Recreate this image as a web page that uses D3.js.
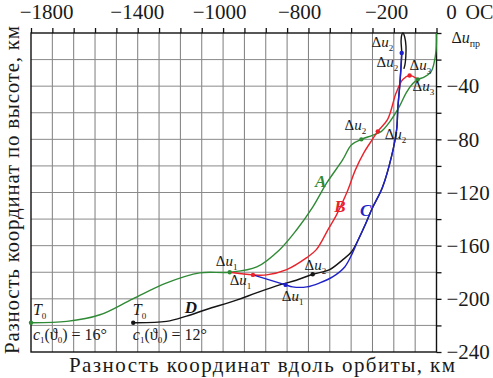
<!DOCTYPE html>
<html>
<head>
<meta charset="utf-8">
<script src="https://cdn.jsdelivr.net/npm/d3@7/dist/d3.min.js"></script>
<style>
body { margin: 0; background: #fff; }
svg text { font-family: "Liberation Serif", "DejaVu Serif", serif; fill: #1a1a1a; }
</style>
</head>
<body>
<div id="chart"></div>
<script>
var width = 493;
var height = 378;

// curves: [km along orbit, km in height]
var curveA = [[-1900,-218],[-1732,-217],[-1577,-212],[-1423,-200],[-1264,-188],[-1109,-180.5],[-969,-180],
    [-842,-176],[-735,-163],[-655,-148],[-580,-131],[-515,-113],[-440,-95.5],[-398,-84],[-352,-80],
    [-300,-77],[-258,-74],[-220,-67],[-173,-55],[-142,-45],[-111,-38],[-88,-35],[-56,-33],[-25,-29],
    [-12,-23],[-2,-13],[0,0]];
var curveB = [[-969,-180],[-860,-182],[-796,-182],[-702,-178],[-608,-169],[-563,-163],[-505,-147],
    [-469,-137],[-420,-120],[-380,-103],[-340,-90],[-300,-80],[-275,-74],[-229,-65],[-189,-45],
    [-158,-35],[-126,-32],[-95,-34],[-88,-35]];
var curveC = [[-860,-182],[-707,-189.5],[-674,-191],[-608,-191],[-547,-188],[-487,-183.5],[-430,-176],
    [-395,-166],[-365,-155],[-332,-143.5],[-300,-131.5],[-253,-116],[-211,-93],[-187,-73],[-181,-56],
    [-172,-39],[-163,-15]];
var curveD = [[-1421,-218],[-1265,-217],[-1171,-213],[-1078,-208],[-937,-201],[-844,-195.5],[-735,-189.5],
    [-657,-186],[-580,-181.5],[-501,-178],[-440,-170.7],[-400,-165],[-365,-155],[-332,-143.5],[-300,-131.5],
    [-253,-116],[-211,-93],[-187,-73],[-181,-56],[-172,-39],[-163,-15],[-166,-6],[-163,-1.5],[-157,0],
    [-149,-3],[-143,-10],[-144,-18],[-148,-24],[-153,-27]];

var markers = [
    { x: -1900, y: -218, c: 'A' }, { x: -969, y: -180, c: 'A' }, { x: -352, y: -80, c: 'A' }, { x: -88, y: -35, c: 'A' },
    { x: -860, y: -182, c: 'B' }, { x: -275, y: -74, c: 'B' }, { x: -126, y: -32, c: 'B' },
    { x: -707, y: -189.5, c: 'C' }, { x: -163, y: -15, c: 'C' },
    { x: -1421, y: -218, c: 'D' }, { x: -580, y: -181.5, c: 'D' }
];

var colors = { A: '#2f8a35', B: '#e8232b', C: '#1f22c8', D: '#151515' };

// annotation labels at data positions
var duLabels = [
    { x: -1034, y: -175, sub: '1' }, { x: -969, y: -189.5, sub: '1' }, { x: -725, y: -202, sub: '1' },
    { x: -618, y: -178, sub: '2' }, { x: -431, y: -73, sub: '2' }, { x: -243, y: -80, sub: '2' },
    { x: -304, y: -10.5, sub: '2' }, { x: -281, y: -25.5, sub: '2' },
    { x: -126, y: -28, sub: '3' }, { x: -112, y: -44, sub: '3' }
];
var curveNames = [
    { x: -543, y: -116, t: 'A' }, { x: -452, y: -134.6, t: 'B' },
    { x: -332, y: -138, t: 'C' }, { x: -1151, y: -210.5, t: 'D' }
];
var startLabels = [
    { x: -1891, y: -212, angle: '16°' },
    { x: -1423, y: -212, angle: '12°' }
];

var topTickText = ['\u22121800', '\u22121400', '\u22121000', '\u2212800', '\u2212200', '0'];
var topTickPos = [-1827, -1402, -1016, -641, -234, 70];
var rightTicks = d3.range(0, -241, -20);

var x = d3.scaleLinear().domain([-1900, 0]).range([31, 436.5]);
var y = d3.scaleLinear().domain([0, -240]).range([33, 352]);

var svg = d3.select('#chart')
    .append('svg')
        .attr('width', width)
        .attr('height', height);

// grid
svg.append('g')
    .selectAll('line')
    .data(d3.range(-1800, 0, 100))
    .enter()
    .append('line')
        .attr('x1', d => x(d)).attr('x2', d => x(d))
        .attr('y1', y(0)).attr('y2', y(-240))
        .attr('stroke', '#7d7d7d')
        .attr('stroke-width', 1);

svg.append('g')
    .selectAll('line')
    .data(d3.range(-20, -240, -20))
    .enter()
    .append('line')
        .attr('x1', x(-1900)).attr('x2', x(0))
        .attr('y1', d => y(d)).attr('y2', d => y(d))
        .attr('stroke', '#8a8a8a')
        .attr('stroke-width', 1);

// frame
svg.append('rect')
    .attr('x', x(-1900)).attr('y', y(0))
    .attr('width', x(0) - x(-1900)).attr('height', y(-240) - y(0))
    .attr('fill', 'none')
    .attr('stroke', '#111')
    .attr('stroke-width', 1.4);

// top axis: ticks only, labels placed as in the original
var topAxis = svg.append('g')
    .attr('transform', 'translate(0,' + y(0) + ')')
    .call(d3.axisTop(x).tickValues(d3.range(-1900, 1, 100)).tickSize(5).tickFormat(''));
topAxis.select('.domain').remove();
topAxis.selectAll('line').attr('stroke', '#111').attr('stroke-width', 1.3);

svg.append('g')
    .selectAll('text')
    .data(topTickText)
    .enter()
    .append('text')
        .attr('x', (d, i) => x(topTickPos[i]))
        .attr('y', 19)
        .attr('text-anchor', 'middle')
        .style('font-size', '21px')
        .text(d => d);

svg.append('text')
    .attr('x', x(136))
    .attr('y', 19)
    .style('font-size', '20px')
    .text('OC');

// right axis
var rightAxis = svg.append('g')
    .attr('transform', 'translate(' + x(0) + ',0)')
    .call(d3.axisRight(y).tickValues(rightTicks).tickSize(5).tickPadding(5)
        .tickFormat(d => (d % 40 === 0 && d !== 0) ? '\u2212' + (-d) : ''));
rightAxis.attr('font-family', null);
rightAxis.select('.domain').remove();
rightAxis.selectAll('line').attr('stroke', '#111').attr('stroke-width', 1.3);
rightAxis.selectAll('text')
    .style('font-size', '21px')
    .attr('fill', '#1a1a1a');

var duPr = svg.append('text')
    .attr('x', x(70))
    .attr('y', y(-7.5))
    .style('font-size', '16px');
duPr.append('tspan').text('\u0394');
duPr.append('tspan').style('font-style', 'italic').text('u');
duPr.append('tspan').attr('dy', 4).style('font-size', '10px').text('пр');

// curves
var line = d3.line()
    .x(d => x(d[0]))
    .y(d => y(d[1]))
    .curve(d3.curveCatmullRom.alpha(0.5));

var curves = [['D', curveD], ['A', curveA], ['B', curveB], ['C', curveC]];

svg.append('g')
    .selectAll('path')
    .data(curves)
    .enter()
    .append('path')
        .attr('d', d => line(d[1]))
        .attr('fill', 'none')
        .attr('stroke', d => colors[d[0]])
        .attr('stroke-width', 1.4);

svg.append('g')
    .selectAll('circle')
    .data(markers)
    .enter()
    .append('circle')
        .attr('cx', d => x(d.x))
        .attr('cy', d => y(d.y))
        .attr('r', 2.2)
        .attr('fill', d => colors[d.c]);

// Δu labels
var du = svg.append('g')
    .selectAll('text')
    .data(duLabels)
    .enter()
    .append('text')
        .attr('x', d => x(d.x))
        .attr('y', d => y(d.y))
        .style('font-size', '15px');
du.append('tspan').text('\u0394');
du.append('tspan').style('font-style', 'italic').text('u');
du.append('tspan').attr('dy', 4).style('font-size', '9px').text(d => d.sub);

svg.append('g')
    .selectAll('text')
    .data(curveNames)
    .enter()
    .append('text')
        .attr('x', d => x(d.x))
        .attr('y', d => y(d.y))
        .attr('text-anchor', 'middle')
        .style('font-size', '17px')
        .style('font-style', 'italic')
        .style('font-weight', 'bold')
        .style('fill', d => colors[d.t])
        .text(d => d.t);

// T0 and c1(θ0) labels
var t0 = svg.append('g')
    .selectAll('text')
    .data(startLabels)
    .enter()
    .append('text')
        .attr('x', d => x(d.x))
        .attr('y', d => y(d.y))
        .style('font-size', '16px');
t0.append('tspan').style('font-style', 'italic').text('T');
t0.append('tspan').attr('dy', 4).style('font-size', '9px').text('0');

var c1 = svg.append('g')
    .selectAll('text')
    .data(startLabels)
    .enter()
    .append('text')
        .attr('x', d => x(d.x))
        .attr('y', d => y(-231))
        .style('font-size', '16px');
c1.append('tspan').style('font-style', 'italic').text('c');
c1.append('tspan').attr('dy', 3).style('font-size', '9px').text('1');
c1.append('tspan').attr('dy', -3).text('(\u03D1');
c1.append('tspan').attr('dy', 3).style('font-size', '9px').text('0');
c1.append('tspan').attr('dy', -3).text(d => ') = ' + d.angle);

// axis titles
svg.append('text')
    .attr('x', 262)
    .attr('y', 372)
    .attr('text-anchor', 'middle')
    .attr('textLength', 386)
    .attr('lengthAdjust', 'spacing')
    .style('font-size', '21px')
    .text('Разность координат вдоль орбиты, км');

svg.append('text')
    .attr('transform', 'translate(19,190) rotate(-90)')
    .attr('text-anchor', 'middle')
    .attr('textLength', 328)
    .attr('lengthAdjust', 'spacing')
    .style('font-size', '21px')
    .text('Разность координат по высоте, км');
</script>
</body>
</html>
